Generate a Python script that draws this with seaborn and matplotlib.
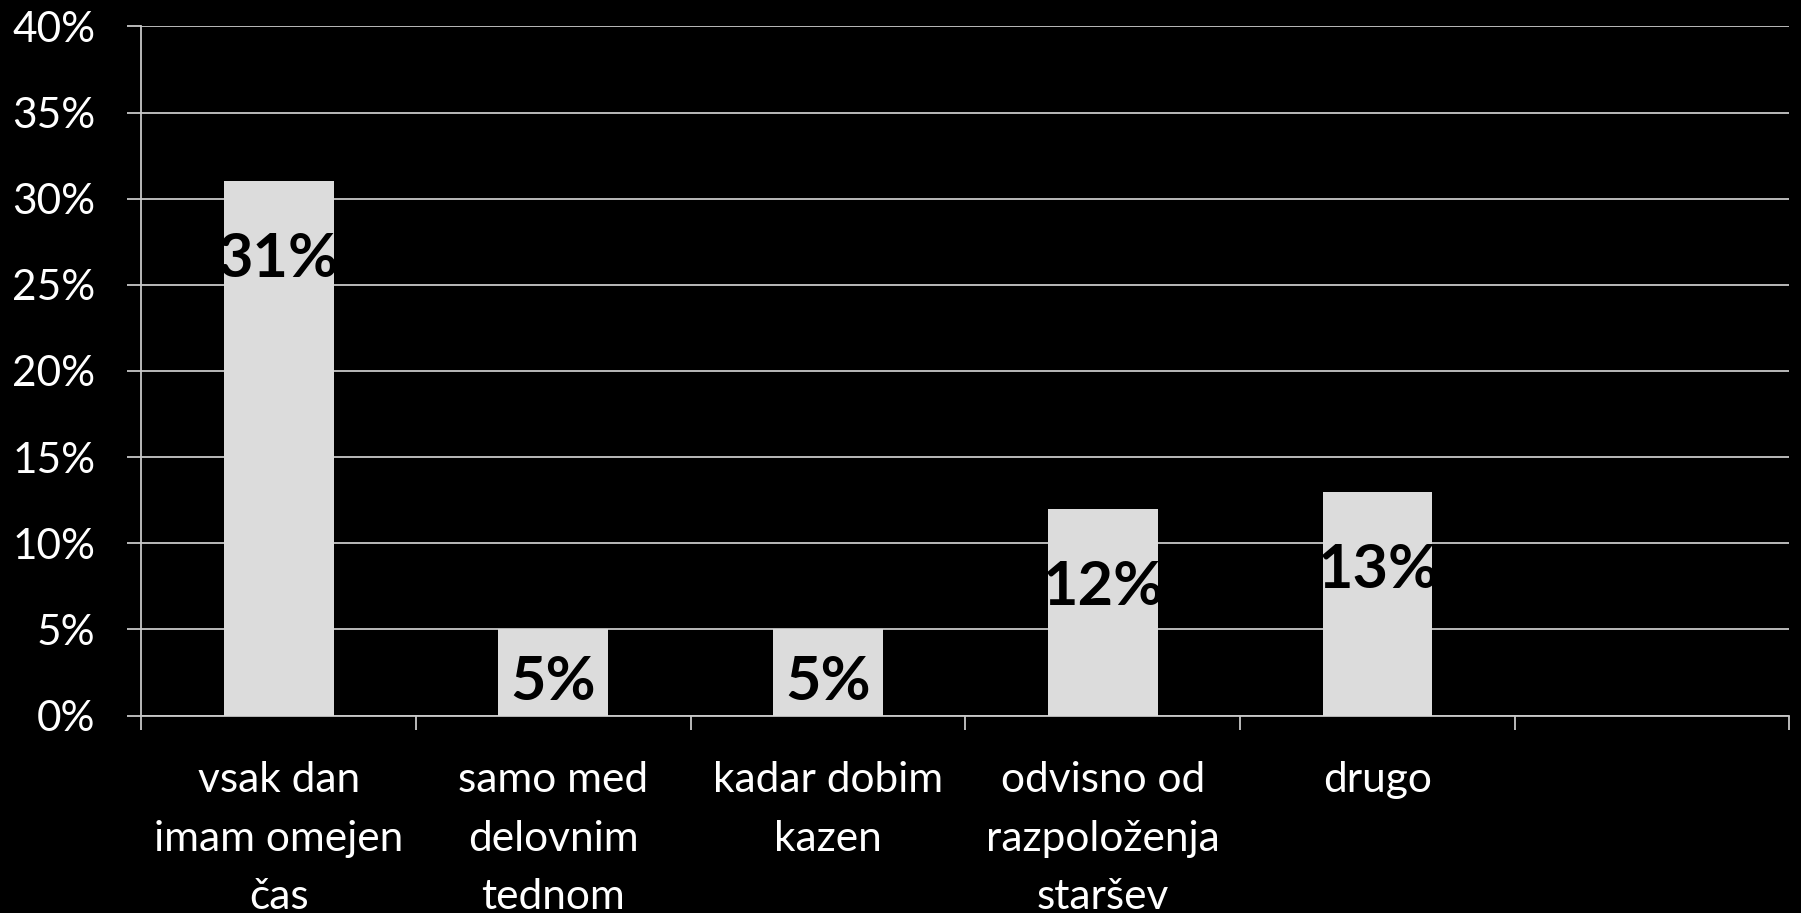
import matplotlib
matplotlib.use("Agg")
import matplotlib.pyplot as plt
from matplotlib.ticker import FixedLocator, FuncFormatter
import pandas as pd
import seaborn as sns

categories = ["vsak dan\nimam omejen\nčas", "samo med\ndelovnim\ntednom", "kadar dobim\nkazen",
              "odvisno od\nrazpoloženja\nstaršev", "drugo"]
values = [31, 5, 5, 12, 13]
y_ticks = [0, 5, 10, 15, 20, 25, 30, 35, 40]
n_slots = 6  # one empty slot at the right end

df = pd.DataFrame({"odgovor": categories, "delez": values})

sns.set_style("dark")
plt.rcParams["font.family"] = ["Lato", "DejaVu Sans"]

fig = plt.figure(figsize=(18.01, 9.13), dpi=100, facecolor="black")
ax = fig.add_axes([0.0785, 0.2162, 0.9151, 0.7549])
ax.set_facecolor("black")

sns.barplot(data=df, x="odgovor", y="delez", color="#dcdcdc", width=0.4,
            saturation=1, linewidth=0, ax=ax, zorder=3)

ax.set_xlim(-0.5, n_slots - 0.5)
ax.set_ylim(0, 40)
ax.set_axisbelow(True)

# grid and axes
ax.yaxis.set_major_locator(FixedLocator(y_ticks))
ax.yaxis.set_major_formatter(FuncFormatter(lambda v, p: f"{v:.0f}%"))
ax.grid(axis="y", color="#c8c8c8", linewidth=1.3, zorder=0)
ax.grid(axis="x", visible=False)
ax.xaxis.set_minor_locator(FixedLocator([i - 0.5 for i in range(n_slots + 1)]))

for s in ["top", "right"]:
    ax.spines[s].set_visible(False)
for s in ["left", "bottom"]:
    ax.spines[s].set_visible(True)
    ax.spines[s].set_color("#c8c8c8")
    ax.spines[s].set_linewidth(1.3)

ax.tick_params(axis="y", which="major", length=10, width=1.3, color="#c8c8c8",
               labelcolor="white", labelsize=30.5, pad=23, left=True)
ax.tick_params(axis="x", which="major", length=0, labelcolor="white",
               labelsize=30.5, pad=33)
ax.tick_params(axis="x", which="minor", length=10, width=1.3, color="#c8c8c8",
               bottom=True)
for lbl in ax.get_xticklabels():
    lbl.set_linespacing(1.65)
    lbl.set_verticalalignment("top")

ax.set_xlabel("")
ax.set_ylabel("")

# value labels, inside end of each bar
for i, v in enumerate(values):
    top_px = ax.transData.transform((i, v))[1]
    zero_px = ax.transData.transform((i, 0))[1]
    center_px = max(top_px - 78, zero_px + 34)
    y = ax.transData.inverted().transform((0, center_px))[1]
    ax.text(i, y, f"{v}%", ha="center", va="center", fontsize=44,
            fontweight="bold", color="black", zorder=4)

fig.savefig("out.png", dpi=100, facecolor="black")
